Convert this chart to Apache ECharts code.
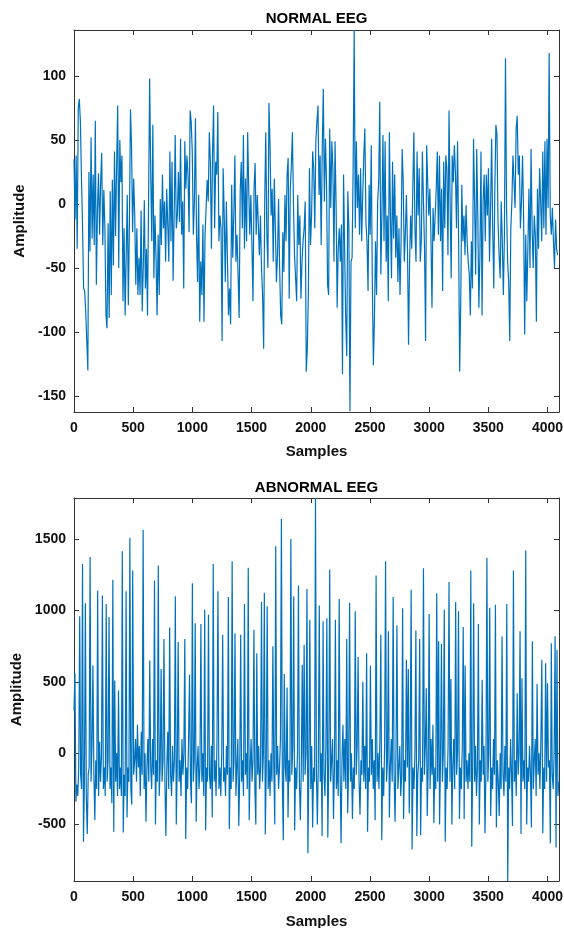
<!DOCTYPE html>
<html>
<head>
<meta charset="utf-8">
<script src="https://cdn.jsdelivr.net/npm/echarts@6/dist/echarts.min.js"></script>
<style>
html, body { margin: 0; padding: 0; background: #fff; }
#chart { width: 564px; height: 928px; }
</style>
</head>
<body>
<div id="chart"></div>
<script>
// sample spacing of the points
const NORMAL_STEP = 9
const ABNORMAL_STEP = 8
const SAMPLE_MAX = 4097

const sampleTicks = [0, 500, 1000, 1500, 2000, 2500, 3000, 3500, 4000]
const normalTicks = [-150, -100, -50, 0, 50, 100]
const abnormalTicks = [-500, 0, 500, 1000, 1500]
const normalRange = [-162.5, 136]
const abnormalRange = [-895, 1788]

const normalAmp = [
    35, -12, 38, -35, 75, 82, 64, 20, -16, -66,
    -68, -84, -107, -130, 25, -37, 52, -27, 23, -32,
    65, -63, -5, 24, -24, 17, 40, -32, 11, -19,
    -87, -97, -15, -89, 10, -71, 19, -48, 41, -25,
    30, 77, -50, 50, 17, 38, -76, -19, -87, -40,
    7, -79, -16, 74, 46, -22, 20, -9, -63, -19,
    -71, -42, -71, -5, -84, -50, 3, -66, -35, -87,
    2, 98, 25, -29, 62, -58, -9, -42, -87, -24,
    -71, 4, -32, 23, -19, 2, -45, 12, -16, -45,
    41, -29, 33, -60, -9, 54, -19, -9, 25, -14,
    51, -24, 2, -66, 49, 12, 38, 23, -22, 73,
    64, 41, -24, 2,
    67, -24, -61, 7, -92, -45, -71, -16, -92, -24,
    -3, 19, 2, 56, 33, -35, 38, 77, -19, 33,
    23, 72, -29, -9, -19, -107, 28, -9, -61, 2,
    -42, -87, -66, -94, 15, -42, -9, 38, -45, -24,
    -55, -89, 10, 33, -19, 54, -35, 20, -29, 56,
    12, -24, 7, -32, -76, 12, 32, -24, 7, -16,
    -40, -9, -50, -71, -113, 2, 56, -24, -50, 79,
    46, -9, 12, -45, 20, -19, -61, -40, 4, -50,
    -87, -94, -22, -53, 7, -29, 23, 36, -74, 12,
    30, 56, -1, -40, -58, -76, 7, -32, -9, -74,
    -45, -29, -19, 2, -131, -113, -68, 28, -32, -9,
    41, 28, -19, 49,
    64, 77, 7, 38, -32, 43, 90, 2, 51, 17,
    -63, -71, 59, -3, 49, 28, -45, 49, -1, -81,
    -35, -19, -45, -16, -133, 23, -35, -89, -119, 10,
    -19, -162, -45, -42, 28, 136, -19, 49, -3, 23,
    -24, 28, -29, 7, 38, 59, -14, -29, -68, 15,
    -24, 46, -61, -126, -89, -29, -71, 2, 17, 80,
    -55, -9, 54, -29, 49, -45, -9, -76, 56, -9,
    -58, 33, -27, 23, -42, -9, -61, -19, -71, -29,
    43, 17, -45, -24, 7, -35, -110, -45, -9, -35,
    12, 56, -19, -45, 41, -9, 28, -45, -29, 41,
    2, -35, -107, 46, 17, -9, 12, -24, -81, -3,
    -29, -9, 12, 41, -24,
    38, -29, 12, -68, 33, -19, 38, 28, -40, 73,
    2, -58, 38, 17, 46, 25, -19, 49, -29, -131,
    -76, 15, -29, -9, -40, -1, -29, -45, -55, -87,
    -29, -66, 51, 2, -55, 43, -9, -81, -40, 41,
    -87, 2, 23, -29, 23, -9, 28, -45, -3, 51,
    -19, -66, 12, 62, 54, -14, -40, -58, 2, -29,
    -71, -24, 114, -3, -45, -61, -107, -19, 2, 38,
    17, -3, 59, 69, 23, 38, -19, 2, 38, -9,
    -102, -24, -76, -35, 12, -50, 43, -19, -50, -9,
    -24, -92, 12, -35, 28, 2, -29, 41, -19, 49,
    -24, 51, -3, 118, -9, -24, -3, -29, -50, -12,
    -35, -40
]

const abnormalAmp = [
    300, 560, -340, -220, -300, -100, 960, -150, -250, 1325, -620, -200, 1050, -300, -566, -150,
    -100, 1375, -200, 50, 615, -150, -468, -50, -250, 1140, -300, 80, -200, -30, 1105, -250,
    -100, -300, 1045, -200, -50, 955, -250, -100, -350, 1215, -550, 510, -200, 0, -300, 440,
    -250, -100, -300, 1415, -555, -150, -300, 1135, -450, -100, -200, 1510, -250, -360, 1280, -150,
    -50, 100, -200, 200, -100, 50, -300, 150, -150, 1565, -250, 0, -480, -100, 100, -200,
    650, -100, -250, 100, -150, 1210, -500, -50, -200, 1315, -300, -100, 590, -200, -50, 800,
    -200, -580, -100, 150, -250, 880, -150, -300, 50, -200, -50, 1100, -500, -100, 780, -200,
    -50, -300, 100, -150, 0, 800, -600, -100, -250, 100, 550, -200, -350, 1190, -200, -50,
    910, -480, -100, 50, -250, -100, 905, -200, 0, -300, 1005, -540, -100, -200, 970, -150,
    -250, 50, -450, 1325, -200, -50, -300, 100, 1135, -250, -100, -300, 0, 830, -200, -100,
    -300, 50, -150, 1095, -530, -100, -250, 1345, -200, -50, 840, -300, -100, 100, -510, -150,
    830, -200, -50, -300, 1045, -150, 0, -250, 1300, -470, -100, 100, -200, -50, 865, -250,
    -500, 700, -150, 50, -250, -100, 1060, -200, 0, 1125, -570, -100, 1030, -250, -50, -300,
    0, -200, 750, -100, -500, 1450, -150, 50, -250, -100, 100, 1640, -200, -610, 555, -100,
    -200, 460, -450, -50, -200, 1500, -150, 50, 1100, -540, -100, -250, 0, 1175, -200, -470,
    -100, 620, -200, 760, -150, 0, 1150, -700, -100, 935, -250, 50, -520, -100, -200, 1790,
    -150, -500, -50, 1035, -200, 0, -580, 925, -150, -300, 50, 945, -590, -100, 1285, -200,
    -50, 100, -460, -100, 935, -250, -50, -300, 1080, -150, -630, -50, 200, -200, 100, -250,
    800, -420, -100, 1055, -200, 0, -460, -100, -250, 995, -150, 50, 675, -200, -430, -50,
    -150, 500, -200, 50, -250, 700, -550, -100, -200, 615, -150, 100, -250, -50, -470, 1245,
    -200, 0, -250, 100, 830, -610, -100, -300, 50, 1345, -200, -50, 855, -450, -100, 100,
    -200, 1095, -150, -480, 0, 895, -250, -100, 50, -300, -150, 1015, -460, -50, -200, 655,
    -100, 590, -420, 50, 1145, -675, -100, -250, 0, 860, -580, -150, -50, 800, -575, -100,
    -200, 1295, -150, 50, 455, -440, -100, 975, -250, 100, -150, 200, -490, -100, -250, 1120,
    -200, 785, -500, -50, 765, -200, 0, 1005, -620, -100, -250, 50, 1200, -200, 520, -500,
    -100, 100, -250, 1060, -150, 0, 995, -460, -100, -250, 50, 885, -460, 615, -200, -50,
    -250, 0, -200, 1280, -655, -100, 1050, -200, 50, -300, -100, 905, -500, -50, -200, 515,
    -150, 50, -560, -100, 1370, -200, 0, 1020, -440, -100, -250, 100, -150, 1040, -520, -50,
    -200, -440, 0, -250, 820, -150, -300, 50, -200, 1045, -900, -100, -250, 100, -150, -510,
    1280, -200, -50, -300, 420, -150, 0, 855, -566, 525, -200, -50, -250, 1420, -500, -100,
    -200, 50, -150, -520, 785, -250, -50, 100, -300, 485, -150, 0, -250, 100, 655, -560,
    -100, -250, 630, -200, 490, -100, -50, -630, 770, -150, -250, 0, 820, -660, 725, -300,
    -200
]

const FONT = '"Liberation Sans", Arial, sans-serif'
const AXIS_COLOR = '#333'
const TEXT_COLOR = '#111'

function toPoints(values, step) {
    return values.map((v, i) => [i * step, v])
}

function plainNumber(v) {
    return String(v)
}

function xAxisFor(gridIndex, position, name, nameGap) {
    const isBottom = position === 'bottom'
    return {
        type: 'value',
        gridIndex: gridIndex,
        position: position,
        min: 0,
        max: SAMPLE_MAX,
        name: name,
        nameLocation: 'middle',
        nameGap: nameGap,
        nameTextStyle: {
            fontFamily: FONT,
            fontWeight: 'bold',
            fontSize: 15,
            color: isBottom ? TEXT_COLOR : '#000'
        },
        axisLine: { show: true, onZero: false, lineStyle: { color: AXIS_COLOR, width: 1 } },
        axisTick: { show: true, inside: true, length: 5, customValues: sampleTicks, lineStyle: { color: AXIS_COLOR } },
        axisLabel: {
            show: isBottom,
            customValues: sampleTicks,
            formatter: plainNumber,
            margin: 9,
            fontFamily: FONT,
            fontWeight: 'bold',
            fontSize: 14,
            color: TEXT_COLOR
        },
        splitLine: { show: false }
    }
}

function yAxisFor(gridIndex, position, range, ticks) {
    const isLeft = position === 'left'
    return {
        type: 'value',
        gridIndex: gridIndex,
        position: position,
        min: range[0],
        max: range[1],
        name: isLeft ? 'Amplitude' : '',
        nameLocation: 'middle',
        nameGap: 37,
        nameTextStyle: {
            fontFamily: FONT,
            fontWeight: 'bold',
            fontSize: 15,
            color: TEXT_COLOR
        },
        axisLine: { show: true, onZero: false, lineStyle: { color: AXIS_COLOR, width: 1 } },
        axisTick: { show: true, inside: true, length: 5, customValues: ticks, lineStyle: { color: AXIS_COLOR } },
        axisLabel: {
            show: isLeft,
            customValues: ticks,
            formatter: plainNumber,
            margin: 8,
            fontFamily: FONT,
            fontWeight: 'bold',
            fontSize: 14,
            color: TEXT_COLOR
        },
        splitLine: { show: false }
    }
}

const chart = echarts.init(document.getElementById('chart'), null, { renderer: 'canvas' })
chart.setOption({
    animation: false,
    backgroundColor: '#fff',
    grid: [
        { left: 74, top: 30, width: 485, height: 382, outerBoundsMode: 'none', containLabel: false },
        { left: 74, top: 498, width: 485, height: 383, outerBoundsMode: 'none', containLabel: false }
    ],
    xAxis: [
        xAxisFor(0, 'bottom', 'Samples', 32),
        xAxisFor(0, 'top', 'NORMAL EEG', 4),
        xAxisFor(1, 'bottom', 'Samples', 33),
        xAxisFor(1, 'top', 'ABNORMAL EEG', 3)
    ],
    yAxis: [
        yAxisFor(0, 'left', normalRange, normalTicks),
        yAxisFor(0, 'right', normalRange, normalTicks),
        yAxisFor(1, 'left', abnormalRange, abnormalTicks),
        yAxisFor(1, 'right', abnormalRange, abnormalTicks)
    ],
    series: [{
        name: 'NORMAL EEG',
        type: 'line',
        xAxisIndex: 0,
        yAxisIndex: 0,
        data: toPoints(normalAmp, NORMAL_STEP),
        showSymbol: false,
        clip: true,
        lineStyle: { color: '#0072BD', width: 1.2 }
    }, {
        name: 'ABNORMAL EEG',
        type: 'line',
        xAxisIndex: 2,
        yAxisIndex: 2,
        data: toPoints(abnormalAmp, ABNORMAL_STEP),
        showSymbol: false,
        clip: true,
        lineStyle: { color: '#0072BD', width: 1.2 }
    }]
})
</script>
</body>
</html>
